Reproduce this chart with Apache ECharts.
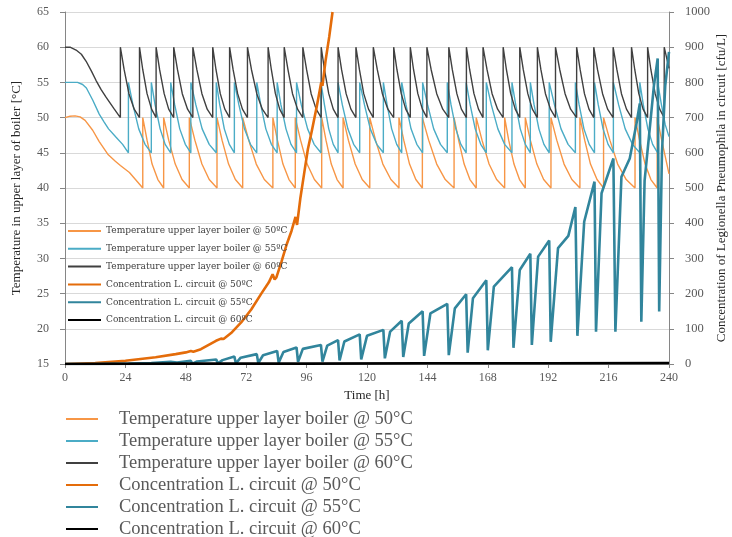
<!DOCTYPE html>
<html><head><meta charset="utf-8">
<script src="https://cdn.jsdelivr.net/npm/echarts@6/dist/echarts.min.js"></script>
<style>html,body{margin:0;padding:0;background:#fff}#c{width:732px;height:537px}</style>
</head><body><div id="c"></div>
<script>
const seriesNames = [
  'Temperature upper layer boiler @ 50°C',
  'Temperature upper layer boiler @ 55°C',
  'Temperature upper layer boiler @ 60°C',
  'Concentration L. circuit @ 50°C',
  'Concentration L. circuit @ 55°C',
  'Concentration L. circuit @ 60°C'
];
const xTicks = [0,24,48,72,96,120,144,168,192,216,240];

const temp50 = [
[0,50],[2,50.2],[4,50.25],[6,50.1],[8,49.6],[11,48.2],[13.6,46.6],[17,44.8],[20,43.8],[22,43.2],[25.6,42.2],[28,41.2],[30.9,40],
[30.9,50],[32.6,46.8],[34.6,43.4],[36.9,41.2],[39.2,40],
[39.2,50],[41.2,46.8],[43.8,43.4],[46.5,41.2],[49.4,40],
[49.4,50],[51.6,46.8],[54.4,43.4],[57.3,41.2],[60.4,40],
[60.4,50],[62.4,46.8],[65.0,43.4],[67.7,41.2],[70.6,40],
[70.6,50],[73.0,46.8],[76.0,43.4],[79.2,41.2],[82.6,40],
[82.6,50],[84.4,46.8],[86.6,43.4],[89.0,41.2],[91.5,40],
[91.5,50],[93.6,46.8],[96.2,43.4],[99.1,41.2],[102.0,40],
[102.0,50],[103.7,46.8],[105.8,43.4],[108.1,41.2],[110.5,40],
[110.5,50],[112.6,46.8],[115.3,43.4],[118.1,41.2],[121.1,40],
[121.1,50],[123.4,46.8],[126.3,43.4],[129.5,41.2],[132.7,40],
[132.7,50],[134.6,46.8],[136.9,43.4],[139.4,41.2],[142.0,40],
[142.0,50],[144.5,46.8],[147.7,43.4],[151.1,41.2],[154.6,40],
[154.6,50],[156.4,46.8],[158.6,43.4],[160.9,41.2],[163.4,40],
[163.4,50],[165.7,46.8],[168.5,43.4],[171.5,41.2],[174.7,40],
[174.7,50],[176.3,46.8],[178.4,43.4],[180.6,41.2],[182.9,40],
[182.9,50],[184.9,46.8],[187.5,43.4],[190.2,41.2],[193.1,40],
[193.1,50],[195.4,46.8],[198.3,43.4],[201.4,41.2],[204.6,40],
[204.6,50],[206.5,46.8],[208.8,43.4],[211.4,41.2],[214.0,40],
[214.0,50],[216.5,46.8],[219.6,43.4],[223.0,41.2],[226.5,40],
[226.5,50],[228.3,46.8],[230.5,43.4],[232.8,41.2],[235.3,40],
[235.3,50],[237.1,46.8],[240,42]
];

const temp55 = [
[0,55],[5,55],[7,54.7],[8.5,54.2],[11,52.5],[13.6,50.5],[15.5,49.4],[17.3,48.4],[20.3,47.2],[22.9,46.2],[25.2,45],
[25.2,55],[27.0,51.8],[29.3,48.4],[31.8,46.2],[34.3,45],
[34.3,55],[35.8,51.8],[37.8,48.4],[39.8,46.2],[42.0,45],
[42.0,55],[43.6,51.8],[45.6,48.4],[47.8,46.2],[50.0,45],
[50.0,55],[52.0,51.8],[54.5,48.4],[57.3,46.2],[60.1,45],
[60.1,55],[61.5,51.8],[63.3,48.4],[65.3,46.2],[67.3,45],
[67.3,55],[69.1,51.8],[71.3,48.4],[73.7,46.2],[76.2,45],
[76.2,55],[77.8,51.8],[79.8,48.4],[82.0,46.2],[84.3,45],
[84.3,55],[85.8,51.8],[87.8,48.4],[89.8,46.2],[92.0,45],
[92.0,55],[93.9,51.8],[96.4,48.4],[99.0,46.2],[101.7,45],
[101.7,55],[103.1,51.8],[104.8,48.4],[106.6,46.2],[108.5,45],
[108.5,55],[110.2,51.8],[112.4,48.4],[114.7,46.2],[117.1,45],
[117.1,55],[119.0,51.8],[121.3,48.4],[123.9,46.2],[126.5,45],
[126.5,55],[128.0,51.8],[129.8,48.4],[131.8,46.2],[133.8,45],
[133.8,55],[135.5,51.8],[137.5,48.4],[139.8,46.2],[142.1,45],
[142.1,55],[144.1,51.8],[146.5,48.4],[149.2,46.2],[151.9,45],
[151.9,55],[153.4,51.8],[155.3,48.4],[157.3,46.2],[159.4,45],
[159.4,55],[161.0,51.8],[163.0,48.4],[165.2,46.2],[167.4,45],
[167.4,55],[169.4,51.8],[172.0,48.4],[174.7,46.2],[177.6,45],
[177.6,55],[179.1,51.8],[180.9,48.4],[182.9,46.2],[184.9,45],
[184.9,55],[186.4,51.8],[188.3,48.4],[190.3,46.2],[192.4,45],
[192.4,55],[194.5,51.8],[197.1,48.4],[199.9,46.2],[202.8,45],
[202.8,55],[204.3,51.8],[206.2,48.4],[208.3,46.2],[210.4,45],
[210.4,55],[211.9,51.8],[213.8,48.4],[215.8,46.2],[217.9,45],
[217.9,55],[220.0,51.8],[222.6,48.4],[225.5,46.2],[228.4,45],
[228.4,55],[229.8,51.8],[231.6,48.4],[233.5,46.2],[235.5,45],
[235.5,55],[237.0,51.8],[238.5,49.0],[240,47.3]
];

const temp60 = [
[0,60],[2,60],[4.4,59.6],[6.5,59],[8.4,58],[10.5,56.6],[12.3,55.3],[14.3,54],[16.3,52.9],[19.6,51.2],[22,50],
[22,60],[23.5,56.8],[25.4,53.4],[27.5,51.2],[29.6,50],
[29.6,60],[30.9,56.8],[32.6,53.4],[34.4,51.2],[36.2,50],
[36.2,60],[37.6,56.8],[39.4,53.4],[41.2,51.2],[43.2,50],
[43.2,60],[44.7,56.8],[46.6,53.4],[48.7,51.2],[50.8,50],
[50.8,60],[52.4,56.8],[54.4,53.4],[56.5,51.2],[58.7,50],
[58.7,60],[60.0,56.8],[61.7,53.4],[63.5,51.2],[65.4,50],
[65.4,60],[66.8,56.8],[68.6,53.4],[70.5,51.2],[72.5,50],
[72.5,60],[74.1,56.8],[76.2,53.4],[78.4,51.2],[80.7,50],
[80.7,60],[82.0,56.8],[83.6,53.4],[85.3,51.2],[87.1,50],
[87.1,60],[88.6,56.8],[90.4,53.4],[92.4,51.2],[94.5,50],
[94.5,60],[96.0,56.8],[97.8,53.4],[99.8,51.2],[101.8,50],
[101.8,60],[103.1,56.8],[104.8,53.4],[106.6,51.2],[108.5,50],
[108.5,60],[109.9,56.8],[111.7,53.4],[113.6,51.2],[115.6,50],
[115.6,60],[117.0,56.8],[118.7,53.4],[120.6,51.2],[122.5,50],
[122.5,60],[124.1,56.8],[126.1,53.4],[128.3,51.2],[130.6,50],
[130.6,60],[131.9,56.8],[133.6,53.4],[135.4,51.2],[137.2,50],
[137.2,60],[138.5,56.8],[140.2,53.4],[142.0,51.2],[143.8,50],
[143.8,60],[145.5,56.8],[147.7,53.4],[150.1,51.2],[152.5,50],
[152.5,60],[153.9,56.8],[155.7,53.4],[157.5,51.2],[159.5,50],
[159.5,60],[160.8,56.8],[162.5,53.4],[164.3,51.2],[166.1,50],
[166.1,60],[167.7,56.8],[169.7,53.4],[171.9,51.2],[174.1,50],
[174.1,60],[175.4,56.8],[177.1,53.4],[178.9,51.2],[180.7,50],
[180.7,60],[182.1,56.8],[183.9,53.4],[185.7,51.2],[187.7,50],
[187.7,60],[189.1,56.8],[190.9,53.4],[192.9,51.2],[194.9,50],
[194.9,60],[196.6,56.8],[198.7,53.4],[200.9,51.2],[203.3,50],
[203.3,60],[204.7,56.8],[206.4,53.4],[208.2,51.2],[210.1,50],
[210.1,60],[211.6,56.8],[213.6,53.4],[215.6,51.2],[217.8,50],
[217.8,60],[219.3,56.8],[221.1,53.4],[223.1,51.2],[225.1,50],
[225.1,60],[226.4,56.8],[228.0,53.4],[229.7,51.2],[231.5,50],
[231.5,60],[232.8,56.8],[234.5,53.4],[236.3,51.2],[238.1,50],
[238.1,60],[240,57]
];

const conc50 = [
[0,0],[12,3],[24,9],[36,19],[44,28],[48,33],[50,37],[51,35],[54,42],[60,66],[62,72],[63,71],[66,88],[70,118],[74,155],[78,200],[81,232],[82.5,255],[83.3,240],[84,246],[86,290],[88,338],[90,378],[91.6,418],[92.2,395],[93.5,470],[95,540],[96.5,610],[98,660],[100,730],[101.8,800],[102.3,790],[103.5,860],[105,930],[106.3,1000]
];

const conc55 = [
[0,0],[12,0],[25.2,1],[25.8,0],[34.3,3],[34.9,0],[42.0,6],[42.6,1],[44.5,4],[50.0,9],[50.6,1],[52.5,7],[60.1,13],[60.7,2],[62.6,11],[67.3,21],[67.9,2],[69.8,18],[76.2,28],[76.8,3],[78.7,25],[84.3,37],[84.9,4],[86.8,34],[92.0,47],[92.6,6],[94.5,43],[101.7,54],[102.3,7],[104.2,52],[108.5,68],[109.1,10],[111,64],[117.1,84],[117.7,13],[120,80],[126.5,97],[127.1,16],[129.2,92],[133.8,123],[134.4,20],[136.6,115],[142.1,150],[142.7,23],[145.2,144],[151.9,171],[152.5,25],[154.9,158],[159.4,198],[160,32],[162.1,187],[167.4,238],[168,39],[170.4,220],[177.6,275],[178.2,46],[180.7,267],[184.9,313],[185.5,54],[188,305],[192.4,351],[193,63],[195.9,329],[200,364],[202.8,446],[203.6,80],[206.3,404],[210.4,518],[211,92],[213.2,485],[217.9,584],[218.7,92],[221.1,532],[224.4,584],[227.1,684],[228.4,740],[229,120],[230.3,520],[232.5,680],[234,790],[235.5,868],[236.1,149],[237.2,600],[238.5,790],[240,887]
];

const conc60 = [[0,0],[48,1],[96,1],[144,2],[192,2],[240,3]];

const colors = ['#F79646','#4BACC6','#404040','#E46C0A','#31859C','#000000'];
const widths = [1.4,1.4,1.4,2.6,2.6,2.6];
const datasets = [temp50,temp55,temp60,conc50,conc55,conc60];

const serif = 'Liberation Serif, Times New Roman, serif';
const chart = echarts.init(document.getElementById('c'), null, {renderer:'canvas'});
chart.setOption({
  animation: false,
  grid: {left:65, right:63, top:12, bottom:173, containLabel:false, outerBoundsMode:'none'},
  legend: [
    {
      data: seriesNames, orient:'vertical', left:67, top:226, padding:0, height:120,
      itemWidth:33, itemHeight:10, itemGap:7.8,
      itemStyle:{opacity:0},
      formatter: n => n.replace('°C','ºC'),
      textStyle:{fontFamily:'DejaVu Serif, serif', fontSize:9, lineHeight:10, color:'#404040'}
    },
    {
      data: seriesNames, orient:'vertical', left:65, top:408, padding:0, height:200,
      itemWidth:32, itemHeight:10, itemGap:0,
      itemStyle:{opacity:0},
      textStyle:{fontFamily:serif, fontSize:18.5, lineHeight:22, color:'#595959', padding:[0,0,0,16]}
    }
  ],
  xAxis: {
    type:'value', min:0, max:240, interval:24,
    name:'Time [h]', nameLocation:'middle', nameGap:25, nameMoveOverlap:false,
    nameTextStyle:{fontFamily:serif, fontSize:13, color:'#262626'},
    axisLine:{show:true, lineStyle:{color:'#868686'}},
    axisTick:{show:true, length:4, lineStyle:{color:'#868686'}},
    axisLabel:{fontFamily:serif, fontSize:12, color:'#595959', margin:8,
      formatter: v => xTicks.indexOf(v) >= 0 ? String(v) : ''},
    splitLine:{show:false}
  },
  yAxis: [
    {
      type:'value', min:15, max:65, interval:5,
      name:'Temperature in upper layer of boiler [°C]', nameLocation:'middle', nameGap:42, nameMoveOverlap:false,
      nameTextStyle:{fontFamily:serif, fontSize:13, color:'#262626'},
      axisLine:{show:true, lineStyle:{color:'#868686'}},
      axisTick:{show:true, length:5, lineStyle:{color:'#868686'}},
      axisLabel:{fontFamily:serif, fontSize:12, color:'#595959', margin:16},
      splitLine:{show:true, lineStyle:{color:'#D9D9D9', width:1}}
    },
    {
      type:'value', min:0, max:1000, interval:100, position:'right',
      name:'Concentration of Legionella Pneumophila in circuit [cfu/L]', nameLocation:'middle', nameGap:46, nameMoveOverlap:false,
      nameRotate:90,
      nameTextStyle:{fontFamily:serif, fontSize:13, color:'#262626'},
      axisLine:{show:true, lineStyle:{color:'#868686'}},
      axisTick:{show:true, length:5, lineStyle:{color:'#868686'}},
      axisLabel:{fontFamily:serif, fontSize:12.5, color:'#595959', margin:16, formatter: v => String(v)},
      splitLine:{show:false}
    }
  ],
  series: datasets.map((d,i) => ({
    name: seriesNames[i], type:'line', data:d, yAxisIndex: i < 3 ? 0 : 1,
    symbol:'none', showSymbol:false, clip:true, z: i < 3 ? 2 : 3,
    lineStyle:{color:colors[i], width:widths[i]}, itemStyle:{color:colors[i]}
  }))
});
</script>
</body></html>
